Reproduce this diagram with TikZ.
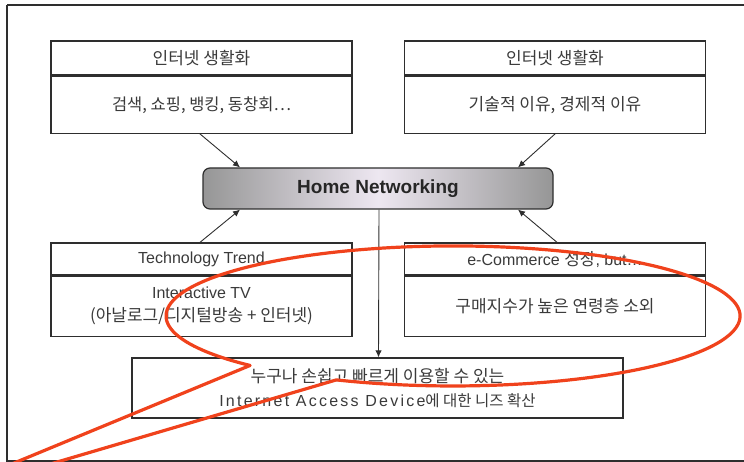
\documentclass[tikz,border=0pt]{standalone}
\usepackage{fontspec}
\setmainfont{Liberation Sans}
\newfontfamily\krfam[WordSpace=1.8]{Noto Sans CJK KR}
\newfontfamily\krnarrow[WordSpace=1.0]{Noto Sans CJK KR}
\newcommand\kr{\krfam\fontsize{17}{19}\selectfont}
\newcommand\krn{\krnarrow\fontsize{16.5}{19}\selectfont}
\newcommand\krs{\krnarrow\fontsize{15.5}{19}\selectfont}
\usetikzlibrary{arrows.meta,calc}
\definecolor{txt}{HTML}{3A3A3A}
\definecolor{ln}{HTML}{2E2E2E}
\definecolor{redline}{RGB}{240,66,28}
\definecolor{hnside}{HTML}{969696}
\definecolor{hnmid}{HTML}{EDE7F1}
\begin{document}
\begin{tikzpicture}[x=1pt,y=-1pt,
  hdr/.style={draw=ln, line width=1.3pt, minimum width=301pt, minimum height=34pt,
    inner sep=0pt, text=txt, align=center, font=\fontsize{16}{19}\selectfont},
  bodybox/.style={hdr, minimum height=57pt},
  bodytall/.style={hdr, minimum height=60pt, font=\fontsize{16}{23}\selectfont},
  hnbox/.style={draw=ln, line width=1.2pt, rounded corners=7pt, minimum width=350pt,
    minimum height=41pt, inner sep=0pt, left color=hnside, right color=hnside,
    middle color=hnmid, text=black!85, font=\fontsize{19}{21}\selectfont\bfseries},
  conn/.style={draw=ln, line width=0.9pt, -{Latex[length=7pt,width=6.5pt]}},
  callout/.style={draw=redline, line width=3.2pt, line join=round}
]
\useasboundingbox (0,0) rectangle (744,462);
\begin{scope}
\clip (0,0) rectangle (744,462);
% outer frame
\draw[ln, line width=1.1pt] (7,5) -- (760,5);
\draw[ln, line width=1.1pt] (7,5) -- (7,461) -- (760,461);

% top-left box
\node[hdr] (b1h) at (201.5,58) {\kr 인터넷 생활화};
\node[bodybox, anchor=north] (b1b) at (b1h.south) {\krn 검색, 쇼핑, 뱅킹, 동창회…};
% top-right box
\node[hdr] (b2h) at (555,58) {\kr 인터넷 생활화};
\node[bodybox, anchor=north] (b2b) at (b2h.south) {\kr 기술적 이유, 경제적 이유};

% home networking
\node[hnbox] (hn) at (378,188.5) {Home Networking};

% bottom-left box
\node[hdr, minimum height=32pt] (b3h) at (201.5,259) {Technology Trend};
\node[bodytall, anchor=north] (b3b) at (b3h.south) {Interactive TV\\{\kr (아날로그/디지털방송 + 인터넷)}};
% bottom-right box
\node[hdr, minimum height=32pt] (b4h) at (555,259) {e-Commerce {\kr 성장}, but…};
\node[bodytall, anchor=north] (b4b) at (b4h.south) {\kr 구매지수가 높은 연령층 소외};

% bottom box
\node[hdr, minimum width=491pt, minimum height=60pt, font=\fontsize{16}{24}\selectfont] (b5) at (377.5,388)
  {{\kr 누구나 손쉽고 빠르게 이용할 수 있는}\\{\addfontfeature{LetterSpace=14}Internet Access Device}{\krs 에 대한 니즈 확산}};

% anchor points on Home Networking
\coordinate (hnTL) at ([xshift=-138pt]hn.north);
\coordinate (hnTR) at ([xshift=140pt]hn.north);
\coordinate (hnBL) at ([xshift=-138pt]hn.south);
\coordinate (hnBR) at ([xshift=140pt]hn.south);

\draw[conn] ([xshift=-1.5pt]b1b.south) -- (hnTL);
\draw[conn] (b2b.south) -- (hnTR);
\draw[conn] ([xshift=-1.5pt]b3h.north) -- (hnBL);
\draw[conn] ([xshift=2pt]b4h.north) -- (hnBR);
\draw[conn] ([xshift=1pt]hn.south) -- ([xshift=1pt]b5.north);

% red callout
\coordinate (tailA) at (-27,480);
\coordinate (tailB) at (-4,480);
\draw[callout] (tailB) -- (336.3,379.9)
  arc[start angle=114, end angle=-225, x radius=287, y radius=70] -- (tailA);
\end{scope}
\end{tikzpicture}
\end{document}
